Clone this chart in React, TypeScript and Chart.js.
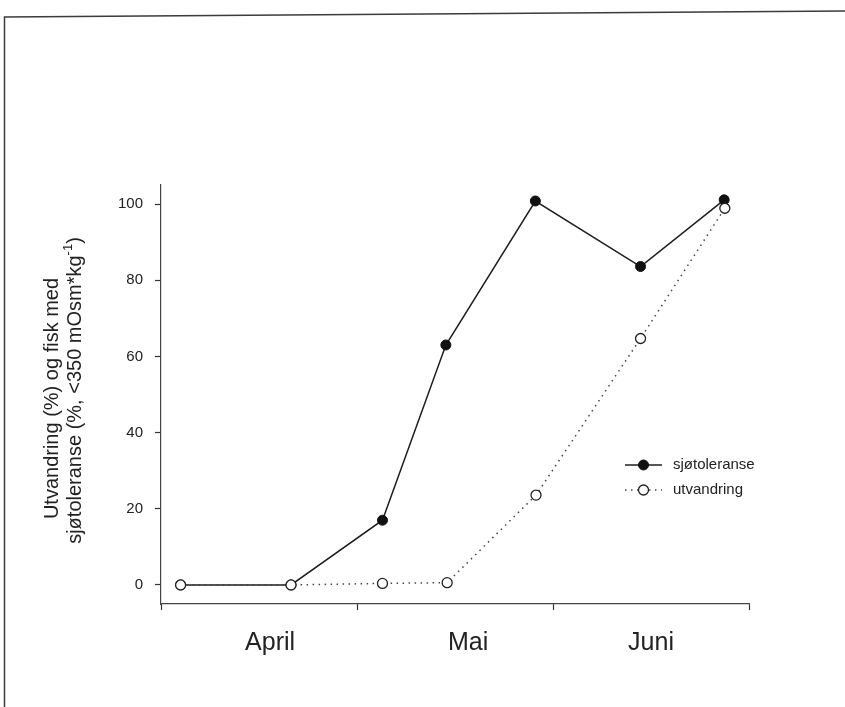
import React, { useEffect, useRef } from 'react';
import { Chart, registerables } from 'chart.js';

Chart.register(...registerables);

const FONT = '"Liberation Sans", Arial, Helvetica, sans-serif';
const INK = '#222222';

// Month labels placed along a day axis (day 0 = 1 April)
const monthLabels = ['April', 'Mai', 'Juni'];
const monthLabelDays = [16.7, 47, 75];
const monthBoundaryDays = [0, 30, 60, 90];
const yTickValues = [0, 20, 40, 60, 80, 100];

// Sea-water tolerance (% fish below 350 mOsm/kg)
const toleranceDays = [3, 19.9, 33.9, 43.6, 57.3, 73.4, 86.2];
const toleranceValues = [0, 0, 17, 63, 100.8, 83.6, 101.1];

// Cumulative migration (%)
const migrationDays = [3, 19.9, 33.9, 43.8, 57.4, 73.4, 86.3];
const migrationValues = [0, 0, 0.4, 0.6, 23.6, 64.7, 98.9];

const seriesNames = ['sjøtoleranse', 'utvandring'];

const titleLine1 = 'Utvandring (%) og fisk med';
const titleLine2Main = 'sjøtoleranse (%, <350 mOsm*kg';
const titleLine2Sup = '-1';
const titleLine2Tail = ')';

const framePlugin = {
  id: 'frame',
  beforeDraw(chart: any) {
    const { ctx, width, height } = chart;
    ctx.save();
    ctx.strokeStyle = '#3c3c3c';
    ctx.lineWidth = 1.5;
    ctx.beginPath();
    ctx.moveTo(4.5, height);
    ctx.lineTo(4.5, 17);
    ctx.lineTo(width, 11);
    ctx.stroke();
    ctx.restore();
  },
};

const yTitlePlugin = {
  id: 'yTitle',
  afterDraw(chart: any) {
    const { ctx, chartArea } = chart;
    const cy = (chartArea.top + chartArea.bottom) / 2;
    ctx.save();
    ctx.fillStyle = INK;
    ctx.textBaseline = 'middle';

    // first line
    ctx.save();
    ctx.translate(chartArea.left - 109, cy + 4);
    ctx.rotate(-Math.PI / 2);
    ctx.font = `20px ${FONT}`;
    ctx.textAlign = 'center';
    ctx.fillText(titleLine1, 0, 0);
    ctx.restore();

    // second line with superscript exponent
    ctx.save();
    ctx.translate(chartArea.left - 86, cy - 4);
    ctx.rotate(-Math.PI / 2);
    ctx.textAlign = 'left';
    ctx.font = `20px ${FONT}`;
    const w1 = ctx.measureText(titleLine2Main).width;
    const w3 = ctx.measureText(titleLine2Tail).width;
    ctx.font = `13px ${FONT}`;
    const w2 = ctx.measureText(titleLine2Sup).width;
    let x = -(w1 + w2 + w3) / 2;
    ctx.font = `20px ${FONT}`;
    ctx.fillText(titleLine2Main, x, 0);
    x += w1;
    ctx.font = `13px ${FONT}`;
    ctx.fillText(titleLine2Sup, x, -7);
    x += w2;
    ctx.font = `20px ${FONT}`;
    ctx.fillText(titleLine2Tail, x, 0);
    ctx.restore();

    ctx.restore();
  },
};

const legendPlugin = {
  id: 'seriesKey',
  afterDraw(chart: any) {
    const { ctx, chartArea } = chart;
    const x0 = chartArea.left + 464;
    const x1 = chartArea.left + 501;
    const xm = (x0 + x1) / 2;
    const xt = chartArea.left + 512;
    chart.data.datasets.forEach((ds: any, i: number) => {
      const y = chartArea.top + 280 + i * 25;
      ctx.save();
      ctx.strokeStyle = ds.borderColor;
      ctx.lineWidth = ds.borderWidth;
      ctx.setLineDash(ds.borderDash || []);
      ctx.beginPath();
      ctx.moveTo(x0, y);
      ctx.lineTo(x1, y);
      ctx.stroke();
      ctx.setLineDash([]);
      ctx.beginPath();
      ctx.arc(xm, y, ds.pointRadius, 0, Math.PI * 2);
      ctx.fillStyle = ds.pointBackgroundColor;
      ctx.fill();
      ctx.lineWidth = ds.pointBorderWidth;
      ctx.strokeStyle = ds.pointBorderColor;
      ctx.stroke();
      ctx.fillStyle = INK;
      ctx.font = `15px ${FONT}`;
      ctx.textBaseline = 'middle';
      ctx.textAlign = 'left';
      ctx.fillText(ds.label, xt, y);
      ctx.restore();
    });
  },
};

export default function App() {
  const canvasRef = useRef<HTMLCanvasElement | null>(null);

  useEffect(() => {
    const canvas = canvasRef.current;
    if (!canvas) return;

    const chart = new Chart(canvas, {
      type: 'line',
      data: {
        datasets: [
          {
            label: seriesNames[0],
            data: toleranceDays.map((d, i) => ({ x: d, y: toleranceValues[i] })),
            borderColor: '#1e1e1e',
            borderWidth: 1.5,
            pointRadius: 5,
            pointBackgroundColor: '#111111',
            pointBorderColor: '#111111',
            pointBorderWidth: 1,
            tension: 0,
            order: 2,
          },
          {
            label: seriesNames[1],
            data: migrationDays.map((d, i) => ({ x: d, y: migrationValues[i] })),
            borderColor: '#444444',
            borderWidth: 1.5,
            borderDash: [1.5, 4.5],
            pointRadius: 5,
            pointBackgroundColor: '#ffffff',
            pointBorderColor: '#222222',
            pointBorderWidth: 1.3,
            tension: 0,
            order: 1,
          },
        ],
      },
      options: {
        animation: false,
        responsive: false,
        events: [],
        layout: { padding: { left: 0, top: 185, right: 96, bottom: 0 } },
        plugins: {
          legend: { display: false },
          tooltip: { enabled: false },
        },
        scales: {
          x: {
            type: 'linear',
            min: 0,
            max: 90,
            afterBuildTicks(scale: any) {
              const vals = [...monthBoundaryDays, ...monthLabelDays].sort((a, b) => a - b);
              scale.ticks = vals.map((v) => ({ value: v }));
            },
            afterFit(scale: any) {
              scale.height = 103;
            },
            grid: {
              display: true,
              drawOnChartArea: false,
              drawTicks: true,
              tickLength: 6,
              tickWidth: 1.2,
              tickColor: (ctx: any) =>
                ctx.tick && monthBoundaryDays.includes(ctx.tick.value) ? '#333333' : 'rgba(0,0,0,0)',
            },
            border: { display: true, color: '#444444', width: 1.2 },
            ticks: {
              autoSkip: false,
              maxRotation: 0,
              padding: 18,
              color: INK,
              font: { family: FONT, size: 25 },
              callback: (value: any) => {
                const i = monthLabelDays.indexOf(Number(value));
                return i >= 0 ? monthLabels[i] : '';
              },
            },
          },
          y: {
            type: 'linear',
            min: -5,
            max: 105,
            afterBuildTicks(scale: any) {
              scale.ticks = yTickValues.map((v) => ({ value: v }));
            },
            afterFit(scale: any) {
              scale.width = 161;
            },
            grid: {
              display: true,
              drawOnChartArea: false,
              drawTicks: true,
              tickLength: 6,
              tickWidth: 1.2,
              tickColor: '#333333',
            },
            border: { display: true, color: '#444444', width: 1.2 },
            ticks: {
              padding: 12,
              color: INK,
              font: { family: FONT, size: 15 },
            },
          },
        },
      },
      plugins: [framePlugin, yTitlePlugin, legendPlugin],
    });

    return () => chart.destroy();
  }, []);

  return (
    <div style={{ position: 'absolute', left: 0, top: 0, width: 845, height: 707, background: '#ffffff' }}>
      <canvas ref={canvasRef} width={845} height={707} style={{ width: 845, height: 707, display: 'block' }} />
    </div>
  );
}
